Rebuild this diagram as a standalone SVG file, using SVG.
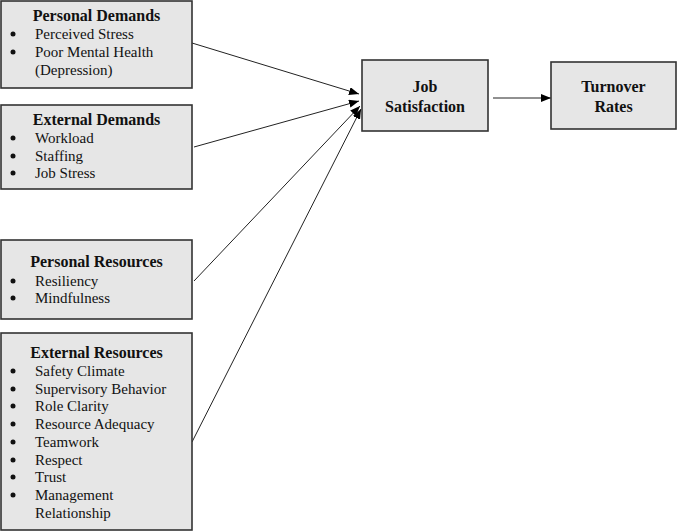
<svg xmlns="http://www.w3.org/2000/svg" width="677" height="532" viewBox="0 0 677 532">
<defs>
<style>
.box{fill:#e6e6e6;stroke:#333;stroke-width:1.6}
.h{font-family:"Liberation Serif",serif;font-weight:bold;font-size:16px;fill:#111;text-anchor:middle}
.t{font-family:"Liberation Serif",serif;font-size:15px;fill:#111}
.b{fill:#111}
.c{stroke:#222;stroke-width:1;fill:none;marker-end:url(#ah)}
</style>
<marker id="ah" markerWidth="10" markerHeight="8" refX="10" refY="4" orient="auto" markerUnits="userSpaceOnUse">
<path d="M0,0 L10,4 L0,8 Z" fill="#000"/>
</marker>
</defs>
<rect width="677" height="532" fill="#fff"/>
<g id="connectors">
<line class="c" x1="192" y1="43" x2="359" y2="94"/>
<line class="c" x1="194" y1="147" x2="359" y2="101"/>
<line class="c" x1="194" y1="281" x2="360" y2="106"/>
<line class="c" x1="192" y1="442" x2="361" y2="109"/>
<line class="c" x1="493" y1="98" x2="551" y2="98"/>
</g>
<g id="personal-demands">
<rect class="box" x="1" y="1" width="191" height="87"/>
<text class="h" x="96.5" y="21">Personal Demands</text>
<circle class="b" cx="13" cy="34" r="2.5"/><text class="t" x="35" y="39">Perceived Stress</text>
<circle class="b" cx="13" cy="52" r="2.5"/><text class="t" x="35" y="57">Poor Mental Health</text>
<text class="t" x="35" y="75">(Depression)</text>
</g>
<g id="external-demands">
<rect class="box" x="1" y="105" width="191" height="84"/>
<text class="h" x="96.5" y="125">External Demands</text>
<circle class="b" cx="13" cy="138" r="2.5"/><text class="t" x="35" y="143">Workload</text>
<circle class="b" cx="13" cy="156" r="2.5"/><text class="t" x="35" y="161">Staffing</text>
<circle class="b" cx="13" cy="173" r="2.5"/><text class="t" x="35" y="178">Job Stress</text>
</g>
<g id="personal-resources">
<rect class="box" x="1" y="240" width="191" height="79"/>
<text class="h" x="96.5" y="267">Personal Resources</text>
<circle class="b" cx="13" cy="281" r="2.5"/><text class="t" x="35" y="286">Resiliency</text>
<circle class="b" cx="13" cy="298" r="2.5"/><text class="t" x="35" y="303">Mindfulness</text>
</g>
<g id="external-resources">
<rect class="box" x="1" y="333" width="191" height="197"/>
<text class="h" x="96.5" y="358">External Resources</text>
<circle class="b" cx="13" cy="371" r="2.5"/><text class="t" x="35" y="376">Safety Climate</text>
<circle class="b" cx="13" cy="389" r="2.5"/><text class="t" x="35" y="394">Supervisory Behavior</text>
<circle class="b" cx="13" cy="406" r="2.5"/><text class="t" x="35" y="411">Role Clarity</text>
<circle class="b" cx="13" cy="424" r="2.5"/><text class="t" x="35" y="429">Resource Adequacy</text>
<circle class="b" cx="13" cy="442" r="2.5"/><text class="t" x="35" y="447">Teamwork</text>
<circle class="b" cx="13" cy="460" r="2.5"/><text class="t" x="35" y="465">Respect</text>
<circle class="b" cx="13" cy="477" r="2.5"/><text class="t" x="35" y="482">Trust</text>
<circle class="b" cx="13" cy="495" r="2.5"/><text class="t" x="35" y="500">Management</text>
<text class="t" x="35" y="518">Relationship</text>
</g>
<g id="job-satisfaction">
<rect class="box" x="362" y="60" width="126" height="71"/>
<text class="h" x="425" y="92">Job</text>
<text class="h" x="425" y="112">Satisfaction</text>
</g>
<g id="turnover-rates">
<rect class="box" x="551" y="62" width="125" height="67"/>
<text class="h" x="613.5" y="92">Turnover</text>
<text class="h" x="613.5" y="112">Rates</text>
</g>
</svg>
